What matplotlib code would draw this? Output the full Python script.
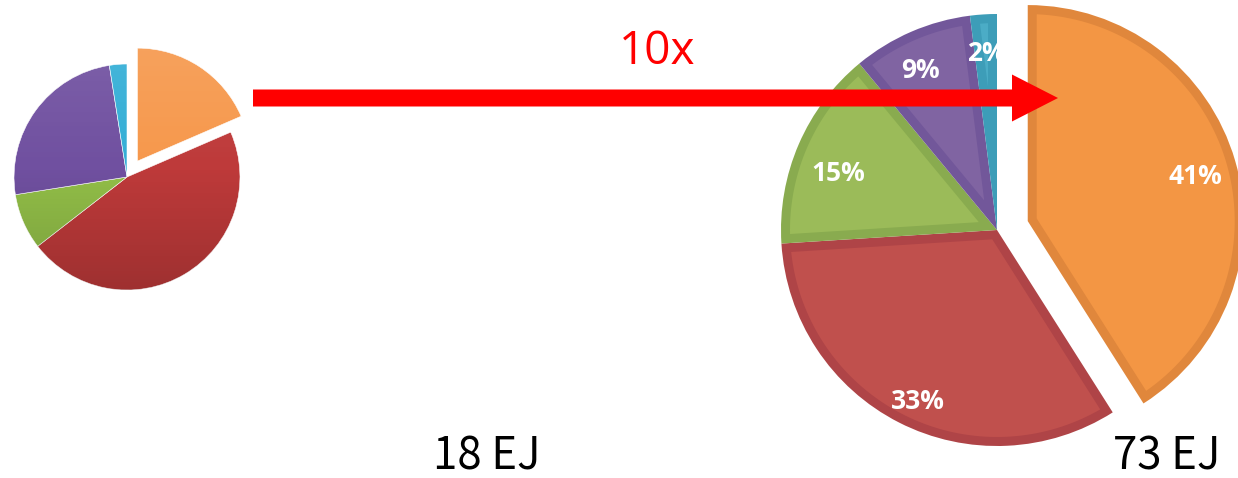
import numpy as np
import matplotlib as mpl
mpl.use("Agg")
import matplotlib.pyplot as plt
from matplotlib.patches import Rectangle, Polygon

### Data
sources = ["Orange", "Red", "Green", "Purple", "Blue"]
share_before = [18.5, 46, 8, 25, 2.5]     # 18 EJ pie (no labels)
share_after = [41, 33, 15, 9, 2]          # 73 EJ pie
total_labels = ["18 EJ", "73 EJ"]
growth_label = "10x"

colors_small = ["#F6984C", "#BE3A3A", "#92BE48", "#7050A0", "#33AED6"]
colors_big = ["#F39644", "#C0504D", "#9BBB59", "#8064A2", "#4BACC6"]
edges_big = ["#E0873C", "#AF4447", "#89AB4F", "#72579A", "#3D9DB8"]
# small nudges of the % labels (pixels, x right / y down), Excel-like placement
label_nudge = [(-2, 5), (1, 14), (4, 14), (-6, 3), (0, 0)]

W, H = 1238, 478
fig = plt.figure(figsize=(W / 100, H / 100), dpi=100)
ax = fig.add_axes([0, 0, 1, 1])


def inset_wedge(w, d):
    # polygon of the wedge shrunk inward by d (gives a border band of width d)
    cx, cy = w.center
    r = w.r
    t1, t2 = np.radians(w.theta1), np.radians(w.theta2)
    half = (t2 - t1) / 2
    bis = t1 + half
    a = d / np.sin(half)
    if a >= r - d:
        return None
    ax_, ay_ = cx + a * np.cos(bis), cy + a * np.sin(bis)
    pts = [(ax_, ay_)]
    ends = []
    for t in (t1, t2):
        ux, uy = np.cos(t), np.sin(t)
        px, py = ax_ - cx, ay_ - cy
        b = px * ux + py * uy
        c = px * px + py * py - (r - d) ** 2
        s = -b + np.sqrt(b * b - c)
        ends.append(np.arctan2(py + s * uy, px + s * ux))
    e1, e2 = ends
    if e2 < e1:
        e2 += 2 * np.pi
    for ang in np.linspace(e1, e2, 80):
        pts.append((cx + (r - d) * np.cos(ang), cy + (r - d) * np.sin(ang)))
    return pts


### Small pie (with a soft vertical shading)
c_small = (127, H - 177)
r_small = 113
wedges0, _ = ax.pie(share_before, colors=colors_small, startangle=90,
                    counterclock=False, center=c_small, radius=r_small,
                    explode=[19, 0, 0, 0, 0], frame=True,
                    wedgeprops=dict(edgecolor="white", linewidth=0.4))
t = np.linspace(0, 1, 100)[:, None]
grad = np.zeros((100, 2, 4))
grad[..., :3] = np.where(t < 0.5, 1.0, 0.0)[..., None]
grad[..., 3] = np.abs(t - 0.5) * np.where(t < 0.5, 0.2, 0.35)
for w in wedges0:
    im = ax.imshow(grad, extent=[c_small[0] - 140, c_small[0] + 140,
                                 c_small[1] - 120, c_small[1] + 140],
                   origin="upper", aspect="auto", zorder=w.get_zorder() + 0.1)
    im.set_clip_path(w)

### Big pie: border colour wedge + lighter inset fill
c_big = (997, H - 230)
r_big = 216
wedges1, _, autotexts = ax.pie(share_after, colors=edges_big, startangle=90,
                               counterclock=False, center=c_big, radius=r_big,
                               explode=[32, 0, 0, 0, 0], frame=True,
                               autopct="%.0f%%", pctdistance=0.82,
                               wedgeprops=dict(linewidth=0),
                               textprops=dict(color="white", fontsize=19,
                                              fontweight="bold", family="Open Sans"))
for w, fc in zip(wedges1, colors_big):
    pts = inset_wedge(w, 9)
    if pts is not None:
        ax.add_patch(Polygon(pts, closed=True, facecolor=fc, edgecolor="none",
                             zorder=w.get_zorder() + 0.1))
for txt, (dx, dy) in zip(autotexts, label_nudge):
    x, y = txt.get_position()
    txt.set_position((x + dx, y - dy))
    txt.set_zorder(5)
# the "2%" label is cut by the gap next to the exploded slice
autotexts[-1].set_clip_path(Rectangle((0, 0), c_big[0], H, transform=ax.transData))

ax.set_xlim(0, W)
ax.set_ylim(0, H)
ax.set_aspect("equal")
ax.axis("off")

### Arrow and texts
ax.arrow(253, H - 98, 1058 - 253, 0, width=17, head_width=47, head_length=46,
         length_includes_head=True, color="#FF0000", lw=0, zorder=10)
ax.text(657, H - 52, growth_label, color="#FF0000", fontsize=33,
        family="Open Sans", ha="center", va="center", zorder=11)
ax.text(487, H - 469, total_labels[0], fontsize=31.5, family="Noto Sans CJK KR",
        ha="center", va="baseline", color="black")
ax.text(1167, H - 469, total_labels[1], fontsize=31.5, family="Noto Sans CJK KR",
        ha="center", va="baseline", color="black")

fig.savefig("out.png", dpi=100, facecolor="white")
